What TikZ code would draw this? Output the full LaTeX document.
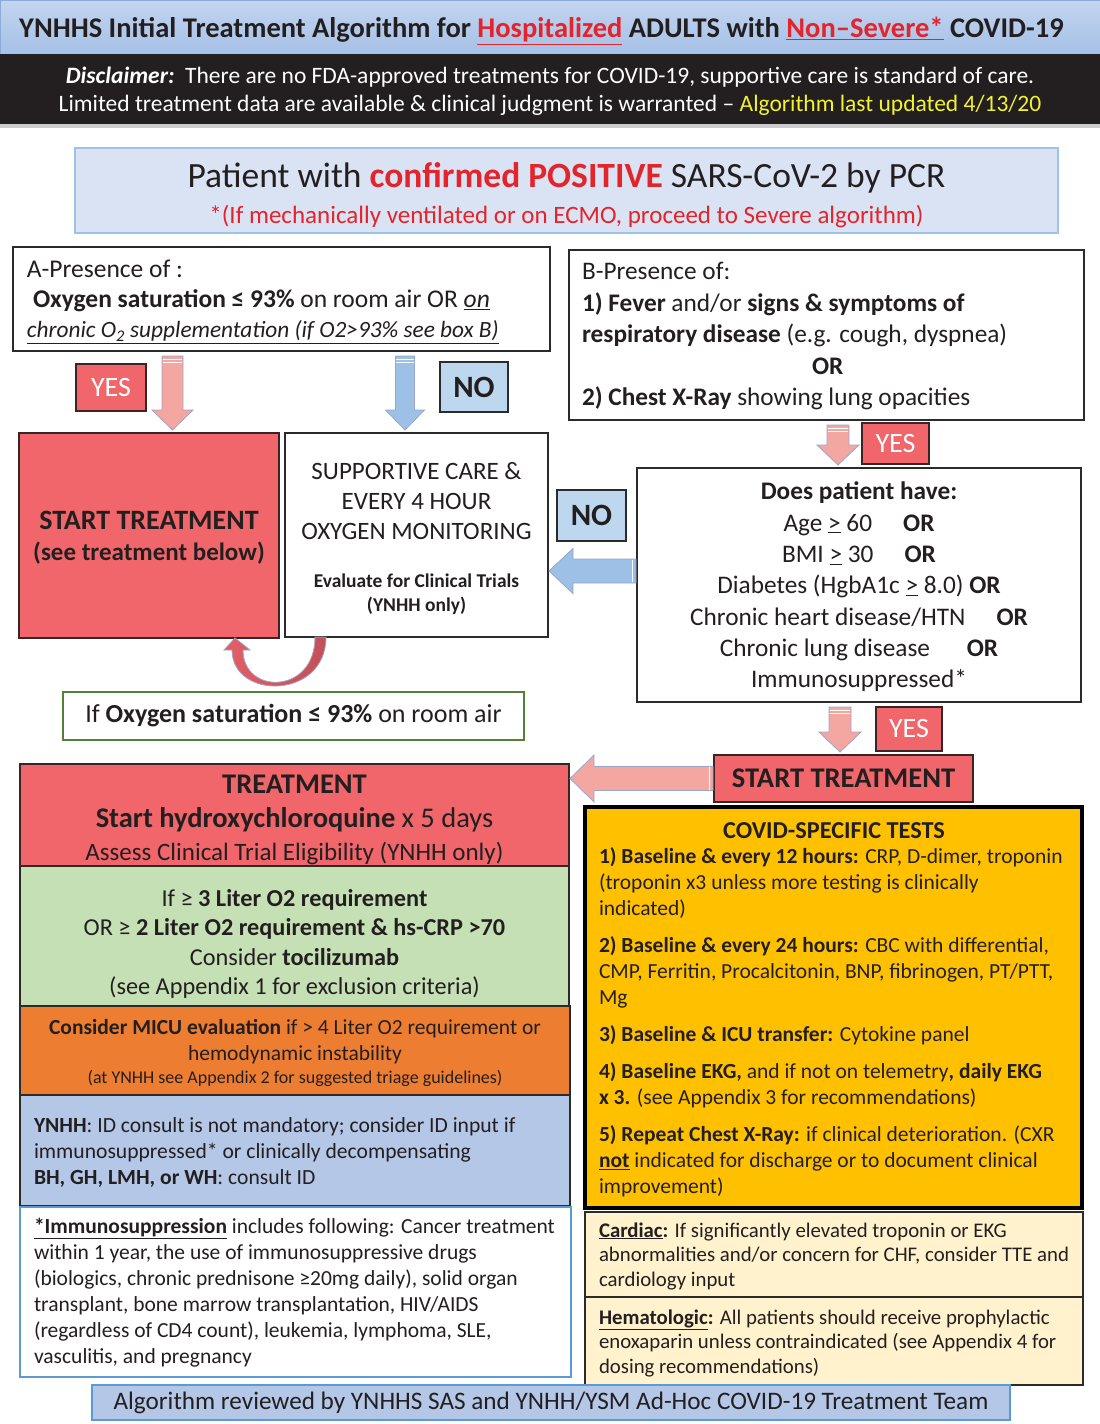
\documentclass[tikz,border=0pt]{standalone}
\usepackage{fontspec}
\setmainfont{Carlito}
\usetikzlibrary{calc}
\definecolor{textdark}{HTML}{231F20}
\definecolor{hred}{HTML}{E3242B}
\definecolor{yellowtxt}{HTML}{F2F230}
\definecolor{darkband}{HTML}{231F20}
\definecolor{titletop}{HTML}{C3D5EF}
\definecolor{titlebot}{HTML}{A5C0E7}
\definecolor{titleline}{HTML}{8EAADB}
\definecolor{patfill}{HTML}{DAE3F3}
\definecolor{patline}{HTML}{9DC3E6}
\definecolor{boxline}{HTML}{2B2B2B}
\definecolor{redbox}{HTML}{F0666A}
\definecolor{redline}{HTML}{3A2526}
\definecolor{bluelbl}{HTML}{BDD7EE}
\definecolor{pinkarrow}{HTML}{F4A7A1}
\definecolor{bluearrow}{HTML}{9DC0E6}
\definecolor{arrowline}{HTML}{9AA6C8}
\definecolor{greenline}{HTML}{548235}
\definecolor{greenfill}{HTML}{C5E0B4}
\definecolor{orangefill}{HTML}{ED7D31}
\definecolor{bluebox}{HTML}{B4C7E7}
\definecolor{immline}{HTML}{5B9BD5}
\definecolor{gold}{HTML}{FFC000}
\definecolor{cream}{HTML}{FFF2CC}
\definecolor{curvefill}{HTML}{E55E66}
\newcommand\fsz[2]{\fontsize{#1}{#2}\selectfont}
% vertical block arrow: style, x, from, to, shaft half, head half
\newcommand\varrow[6]{%
  \path[#1] let \p1=(#3), \p2=(#4) in
    (#2pt-#5pt,\y1-5pt) -- (#2pt+#5pt,\y1-5pt) -- (#2pt+#5pt,\y2+23pt) --
    (#2pt+#6pt,\y2+23pt) -- (#2pt,\y2+3pt) -- (#2pt-#6pt,\y2+23pt) --
    (#2pt-#5pt,\y2+23pt) -- cycle;
  \draw[white, line width=0.9pt] let \p1=(#3) in
    (#2pt-#5pt+0.6pt,\y1-8pt) -- (#2pt+#5pt-0.6pt,\y1-8pt)
    (#2pt-#5pt+0.6pt,\y1-11pt) -- (#2pt+#5pt-0.6pt,\y1-11pt);}
% horizontal (leftward) block arrow: style, y, from, to, shaft half, head half
\newcommand\harrow[6]{%
  \path[#1] let \p1=(#3), \p2=(#4) in
    (\x1-1pt,-#2pt+#5pt) -- (\x2+25pt,-#2pt+#5pt) -- (\x2+25pt,-#2pt+#6pt) --
    (\x2+1pt,-#2pt) -- (\x2+25pt,-#2pt-#6pt) -- (\x2+25pt,-#2pt-#5pt) --
    (\x1-1pt,-#2pt-#5pt) -- cycle;
  \draw[white, line width=0.9pt] let \p1=(#3) in
    (\x1-5pt,-#2pt+#5pt-0.6pt) -- (\x1-5pt,-#2pt-#5pt+0.6pt);}
\tikzset{
  box/.style={draw=boxline, line width=1.4pt, inner sep=0pt, outer sep=0pt},
  txt/.style={inner sep=0pt, outer sep=0pt, text=textdark, align=center},
  ltxt/.style={inner sep=0pt, outer sep=0pt, anchor=west, align=left, text=textdark},
  yeslabel/.style={draw=redline, line width=2pt, fill=redbox, text=white, inner sep=0pt, font=\fsz{28}{30}},
  nolabel/.style={draw=boxline, line width=1.5pt, fill=bluelbl, text=textdark, inner sep=0pt, font=\fsz{31}{32}\bfseries},
  pinkarr/.style={fill=pinkarrow, draw=arrowline, line width=0.8pt},
  bluearr/.style={fill=bluearrow, draw=arrowline, line width=0.8pt},
}
\begin{document}
\begin{tikzpicture}[x=1pt,y=-1pt]
\useasboundingbox (0,0) rectangle (1100,1424);
% ---------- header ----------
\node[minimum width=1100pt, minimum height=54pt, inner sep=0pt, top color=titletop, bottom color=titlebot, draw=titleline, line width=1pt] (titlebar) at (550,27) {};
\node[txt, font=\fsz{28.5}{30}\bfseries] (titletext) at (541.5,31) {YNHHS Initial Treatment Algorithm for \textcolor{hred}{\underline{Hospitalized}} ADULTS with \textcolor{hred}{\underline{Non–Severe*}} COVID-19};
\node[fill=darkband, minimum width=1100pt, minimum height=70pt, inner sep=0pt] (band) at (550,89) {};
\node[fill=gray!40, minimum width=1100pt, minimum height=4pt, inner sep=0pt] (strip) at (550,126) {};
\node[txt, text=white, font=\fsz{23.5}{28}] (disc) at (550,91.5) {\textbf{\textit{Disclaimer:}}\ \ There are no FDA-approved treatments for COVID-19, supportive care is standard of care.\\ Limited treatment data are available \& clinical judgment is warranted -- \textcolor{yellowtxt}{Algorithm last updated 4/13/20}};
% ---------- patient ----------
\node[box, fill=patfill, draw=patline, line width=1.4pt, minimum width=983pt, minimum height=85pt] (patient) at (566.5,190.5) {};
\node[txt, font=\fsz{35.5}{36}] (pattext) at (566.5,195) {Patient with \textcolor{hred}{\textbf{confirmed POSITIVE}} SARS-CoV-2 by PCR\\ {\fsz{25}{36}\textcolor{hred}{*(If mechanically ventilated or on ECMO, proceed to Severe algorithm)}}};
% ---------- box A ----------
\node[box, fill=white, minimum width=537pt, minimum height=104pt] (boxA) at (281.5,299) {};
\node[ltxt, font=\fsz{25.5}{30}] (boxAtext) at (27,302) {A-Presence of :\\ \hspace*{6pt}\textbf{Oxygen saturation ≤ 93\%} on room air OR \underline{\textit{on}}\\ {\fsz{23.3}{30}\underline{\textit{chronic O\textsubscript{2} supplementation (if O2>93\% see box B)}}}};
% ---------- box B ----------
\node[box, fill=white, minimum width=515pt, minimum height=170pt] (boxB) at (826.5,335) {};
\node[ltxt, font=\fsz{25.3}{31.5}] (boxBtext) at (582,336) {B-Presence of:\\ \textbf{1) Fever} and/or \textbf{signs \& symptoms of}\\ \textbf{respiratory disease} (e.g. cough, dyspnea)\\ \hspace*{230pt}\textbf{OR}\\ \textbf{2) Chest X-Ray} showing lung opacities};
% ---------- labels ----------
\node[yeslabel, minimum width=70pt, minimum height=47pt] (yesA) at (111,387.5) {YES};
\node[nolabel, minimum width=68pt, minimum height=50pt] (noA) at (474,387) {NO};
% ---------- start treatment / supportive ----------
\node[box, fill=redbox, draw=redline, line width=2pt, minimum width=260pt, minimum height=205pt] (start1) at (149,535.5) {};
\node[txt, font=\fsz{28}{31}\bfseries] (start1text) at (149,538) {START TREATMENT\\ {\fsz{25}{31}(see treatment below)}};
\node[box, line width=2pt, fill=white, minimum width=263pt, minimum height=204pt] (support) at (416.5,535) {};
\node[txt, font=\fsz{25}{30}] (supporttext) at (416.5,538) {SUPPORTIVE CARE \&\\ EVERY 4 HOUR\\ OXYGEN MONITORING\\[18pt] {\fsz{19.5}{24}\bfseries Evaluate for Clinical Trials}\\[-6pt] {\fsz{19.5}{24}\bfseries (YNHH only)}};
\node[nolabel, minimum width=69pt, minimum height=51pt] (noB) at (591.5,515.5) {NO};
% ---------- does patient have ----------
\node[box, fill=white, minimum width=444pt, minimum height=234pt] (does) at (859,585) {};
\node[txt, font=\fsz{25.3}{31.3}] (doestext) at (859,587) {\textbf{Does patient have:}\\ Age \underline{>} 60\quad\ \textbf{OR}\\ BMI \underline{>} 30\quad\ \textbf{OR}\\ Diabetes (HgbA1c \underline{>} 8.0) \textbf{OR}\\ Chronic heart disease/HTN\quad\ \textbf{OR}\\ Chronic lung disease\quad\ \ \textbf{OR}\\ Immunosuppressed*};
\node[yeslabel, minimum width=67pt, minimum height=41pt] (yesB1) at (895.5,443.5) {YES};
\node[yeslabel, minimum width=66pt, minimum height=44pt] (yesB2) at (909,729) {YES};
\node[box, fill=redbox, draw=redline, line width=2pt, minimum width=259pt, minimum height=47pt, text=textdark, font=\fsz{28.5}{30}\bfseries] (start2) at (843.5,778.5) {START TREATMENT};
% ---------- if O2 ----------
\node[box, draw=greenline, line width=2pt, fill=white, minimum width=461pt, minimum height=48pt, text=textdark, font=\fsz{26}{28}] (ifo2) at (293.5,716) {If \textbf{Oxygen saturation ≤ 93\%} on room air};
% ---------- treatment column ----------
\node[box, fill=redbox, draw=redline, line width=2pt, minimum width=549pt, minimum height=102pt] (treat) at (294.5,815) {};
\node[txt, font=\fsz{28.5}{33.5}] (treattext) at (294.5,820) {{\bfseries TREATMENT}\\ \textbf{Start hydroxychloroquine} x 5 days\\ {\fsz{25}{33.5}Assess Clinical Trial Eligibility (YNHH only)}};
\node[box, fill=greenfill, minimum width=549pt, minimum height=140pt] (tocil) at (294.5,936) {};
\node[txt, font=\fsz{24.3}{29.3}] (tociltext) at (294.5,944) {If ≥ \textbf{3 Liter O2 requirement}\\ OR ≥ \textbf{2 Liter O2 requirement \& hs-CRP >70}\\ Consider \textbf{tocilizumab}\\ (see Appendix 1 for exclusion criteria)};
\node[box, fill=orangefill, minimum width=550pt, minimum height=89pt] (micu) at (295,1050.5) {};
\node[txt, font=\fsz{21.5}{26}] (micutext) at (295,1052.5) {\textbf{Consider MICU evaluation} if > 4 Liter O2 requirement or\\ hemodynamic instability\\[-3pt] {\fsz{18}{23}(at YNHH see Appendix 2 for suggested triage guidelines)}};
\node[box, fill=bluebox, minimum width=550pt, minimum height=111pt] (idbox) at (295,1150.5) {};
\node[ltxt, font=\fsz{21.6}{26}] (idtext) at (34,1152.5) {\textbf{YNHH}: ID consult is not mandatory; consider ID input if\\ immunosuppressed* or clinically decompensating\\ \textbf{BH, GH, LMH, or WH}: consult ID};
\node[box, draw=immline, line width=2pt, fill=white, minimum width=551pt, minimum height=170pt] (immuno) at (295.5,1292) {};
\node[ltxt, font=\fsz{21.5}{26}] (immunotext) at (34,1292.5) {\textbf{\underline{*Immunosuppression}} includes following: Cancer treatment\\ within 1 year, the use of immunosuppressive drugs\\ (biologics, chronic prednisone ≥20mg daily), solid organ\\ transplant, bone marrow transplantation, HIV/AIDS\\ (regardless of CD4 count), leukemia, lymphoma, SLE,\\ vasculitis, and pregnancy};
% ---------- right column ----------
\node[box, fill=gold, draw=black, line width=4.5pt, minimum width=497pt, minimum height=401pt] (covid) at (833.5,1007.5) {};
\node[txt, font=\fsz{24.3}{26}\bfseries] (covidtitle) at (834,831) {COVID-SPECIFIC TESTS};
\node[ltxt, font=\fsz{21.5}{26}] (covidtext) at (599,1022.5) {\textbf{1) Baseline \& every 12 hours:} CRP, D-dimer, troponin\\ (troponin x3 unless more testing is clinically\\ indicated)\\[11pt] \textbf{2) Baseline \& every 24 hours:} CBC with differential,\\ CMP, Ferritin, Procalcitonin, BNP, fibrinogen, PT/PTT,\\ Mg\\[11pt] \textbf{3) Baseline \& ICU transfer:} Cytokine panel\\[11pt] \textbf{4) Baseline EKG,} and if not on telemetry\textbf{, daily EKG}\\ \textbf{x 3.} (see Appendix 3 for recommendations)\\[11pt] \textbf{5) Repeat Chest X-Ray:} if clinical deterioration. (CXR\\ \textbf{\underline{not}} indicated for discharge or to document clinical\\ improvement)};
\node[box, fill=cream, minimum width=498pt, minimum height=85pt] (cardiac) at (834,1254.5) {};
\node[ltxt, font=\fsz{20.8}{24.5}] (cardiactext) at (599,1256) {\textbf{\underline{Cardiac}:} If significantly elevated troponin or EKG\\ abnormalities and/or concern for CHF, consider TTE and\\ cardiology input};
\node[box, fill=cream, minimum width=498pt, minimum height=88pt] (hema) at (834,1341) {};
\node[ltxt, font=\fsz{20.8}{24.5}] (hematext) at (599,1343) {\textbf{\underline{Hematologic}:} All patients should receive prophylactic\\ enoxaparin unless contraindicated (see Appendix 4 for\\ dosing recommendations)};
% ---------- footer ----------
\node[box, fill=bluebox, draw=immline, line width=2pt, minimum width=918pt, minimum height=35pt, text=textdark, font=\fsz{25.2}{28}] (footer) at (551,1402.5) {Algorithm reviewed by YNHHS SAS and YNHH/YSM Ad-Hoc COVID-19 Treatment Team};
% ---------- arrows ----------
\varrow{pinkarr}{172.5}{boxA.south}{start1.north}{10.5}{20.5}
\varrow{bluearr}{405}{boxA.south}{support.north}{9.5}{19.5}
\varrow{pinkarr}{838}{boxB.south}{does.north}{11}{21}
\varrow{pinkarr}{840}{does.south}{start2.north}{11}{21}
\harrow{bluearr}{571}{does.west}{support.east}{12}{22.5}
\harrow{pinkarr}{778.5}{start2.west}{treat.east}{12}{23.5}
% curved return arrow
\coordinate (ca) at ($(support.south west)+(41,0)$);
\coordinate (cb) at ($(start1.south east)+(-44,0)$);
\path[left color=curvefill, right color=curvefill!85!black, draw=arrowline, line width=0.8pt]
  (ca) .. controls ($(ca)+(0,63)$) and ($(cb)+(-3,62)$) .. ($(cb)+(-3,12)$)
  -- ($(cb)+(-11,12)$) -- (cb) -- ($(cb)+(15,12)$) -- ($(cb)+(8,12)$)
  .. controls ($(cb)+(8,57)$) and ($(ca)+(-11,58)$) .. ($(ca)+(-11,0)$) -- cycle;
\end{tikzpicture}
\end{document}
